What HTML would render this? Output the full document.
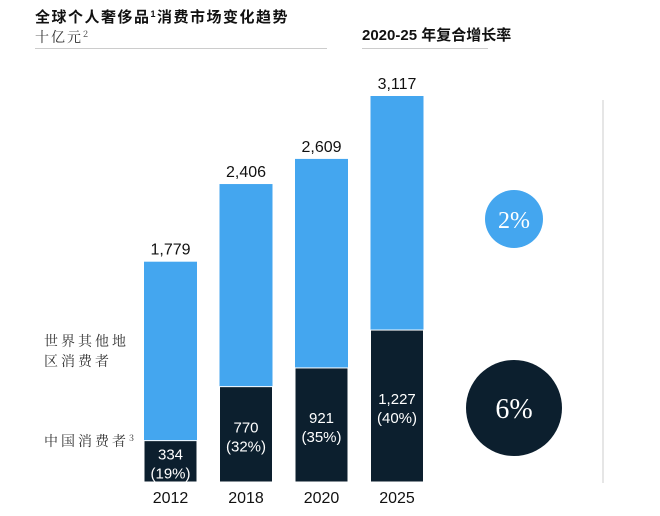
<!DOCTYPE html>
<html><head><meta charset="utf-8"><style>
body{margin:0;background:#fff;width:660px;height:516px;overflow:hidden}
svg{display:block;font-family:"Liberation Sans","Noto Sans CJK SC",sans-serif}
</style></head><body>
<svg width="660" height="516">
<text x="35" y="22" font-size="15" font-weight="bold" fill="#111" letter-spacing="1.5">全球个人奢侈品<tspan font-size="9" dy="-5">1</tspan><tspan dy="5">消费市场变化趋势</tspan></text>
<text x="35" y="42" font-size="14" fill="#333" letter-spacing="2" font-family="Noto Serif CJK SC, serif">十亿元<tspan font-size="9" dy="-5">2</tspan></text>
<line x1="35" y1="48.5" x2="327" y2="48.5" stroke="#ccc"/>
<text x="362" y="40" font-size="15" font-weight="bold" fill="#111">2020-25 年复合增长率</text>
<line x1="362" y1="48.5" x2="488" y2="48.5" stroke="#ccc"/>
<line x1="603" y1="100" x2="603" y2="483" stroke="#ddd" stroke-width="1.5"/>
<text x="44" y="346" font-size="14" fill="#333" letter-spacing="3" font-family="Noto Serif CJK SC, serif">世界其他地</text>
<text x="44" y="366" font-size="14" fill="#333" letter-spacing="3" font-family="Noto Serif CJK SC, serif">区消费者</text>
<text x="44" y="446" font-size="14" fill="#333" letter-spacing="3" font-family="Noto Serif CJK SC, serif">中国消费者<tspan font-size="9" dy="-5">3</tspan></text>
<g id="bars"></g>
<circle cx="514" cy="219" r="29" fill="#44a6ef"/>
<text x="514" y="228" font-size="24" fill="#fff" text-anchor="middle" font-family="Liberation Serif,serif">2%</text>
<circle cx="514" cy="408" r="48" fill="#0c1f2e"/>
<text x="514" y="418" font-size="28" fill="#fff" text-anchor="middle" font-family="Liberation Serif,serif">6%</text>
</svg>
<script>
const years=["2012","2018","2020","2025"];
const totals=[1779,2406,2609,3117];
const china=[334,770,921,1227];
const shares=["19%","32%","35%","40%"];
const base=482, scale=386/3117, x0=144, step=75.5, bw=53;
const y=v=>base-v*scale;
const g=document.getElementById('bars');
const NS="http://www.w3.org/2000/svg";
function mk(t,a){const e=document.createElementNS(NS,t);for(const k in a)e.setAttribute(k,a[k]);g.appendChild(e);return e;}
years.forEach((yr,i)=>{
 const x=x0+i*step;
 const r=mk('rect',{x:x,y:y(totals[i]),width:bw,height:base-y(totals[i]),fill:'#44a6ef'});
 
 
 const c=mk('rect',{x:x,y:y(china[i]),width:bw,height:base-y(china[i]),fill:'#0c1f2e',stroke:'#fff','stroke-width':1});
 
 
 const t=mk('text',{x:x+bw/2,y:y(totals[i])-7,'font-size':16,fill:'#111','text-anchor':'middle'});
 t.textContent=totals[i].toLocaleString('en-US');
 
 
 const cy=(y(china[i])+base)/2;
 const v=mk('text',{x:x+bw/2,y:cy-2,'font-size':15,fill:'#fff','text-anchor':'middle'});
 v.textContent=china[i].toLocaleString('en-US');
 
 
 const p=mk('text',{x:x+bw/2,y:cy+17,'font-size':15,fill:'#fff','text-anchor':'middle'});
 p.textContent='('+shares[i]+')';
 
 
 const l=mk('text',{x:x+bw/2,y:503,'font-size':16,fill:'#111','text-anchor':'middle'});
 l.textContent=yr;
 
 
});
</script>
</body></html>
